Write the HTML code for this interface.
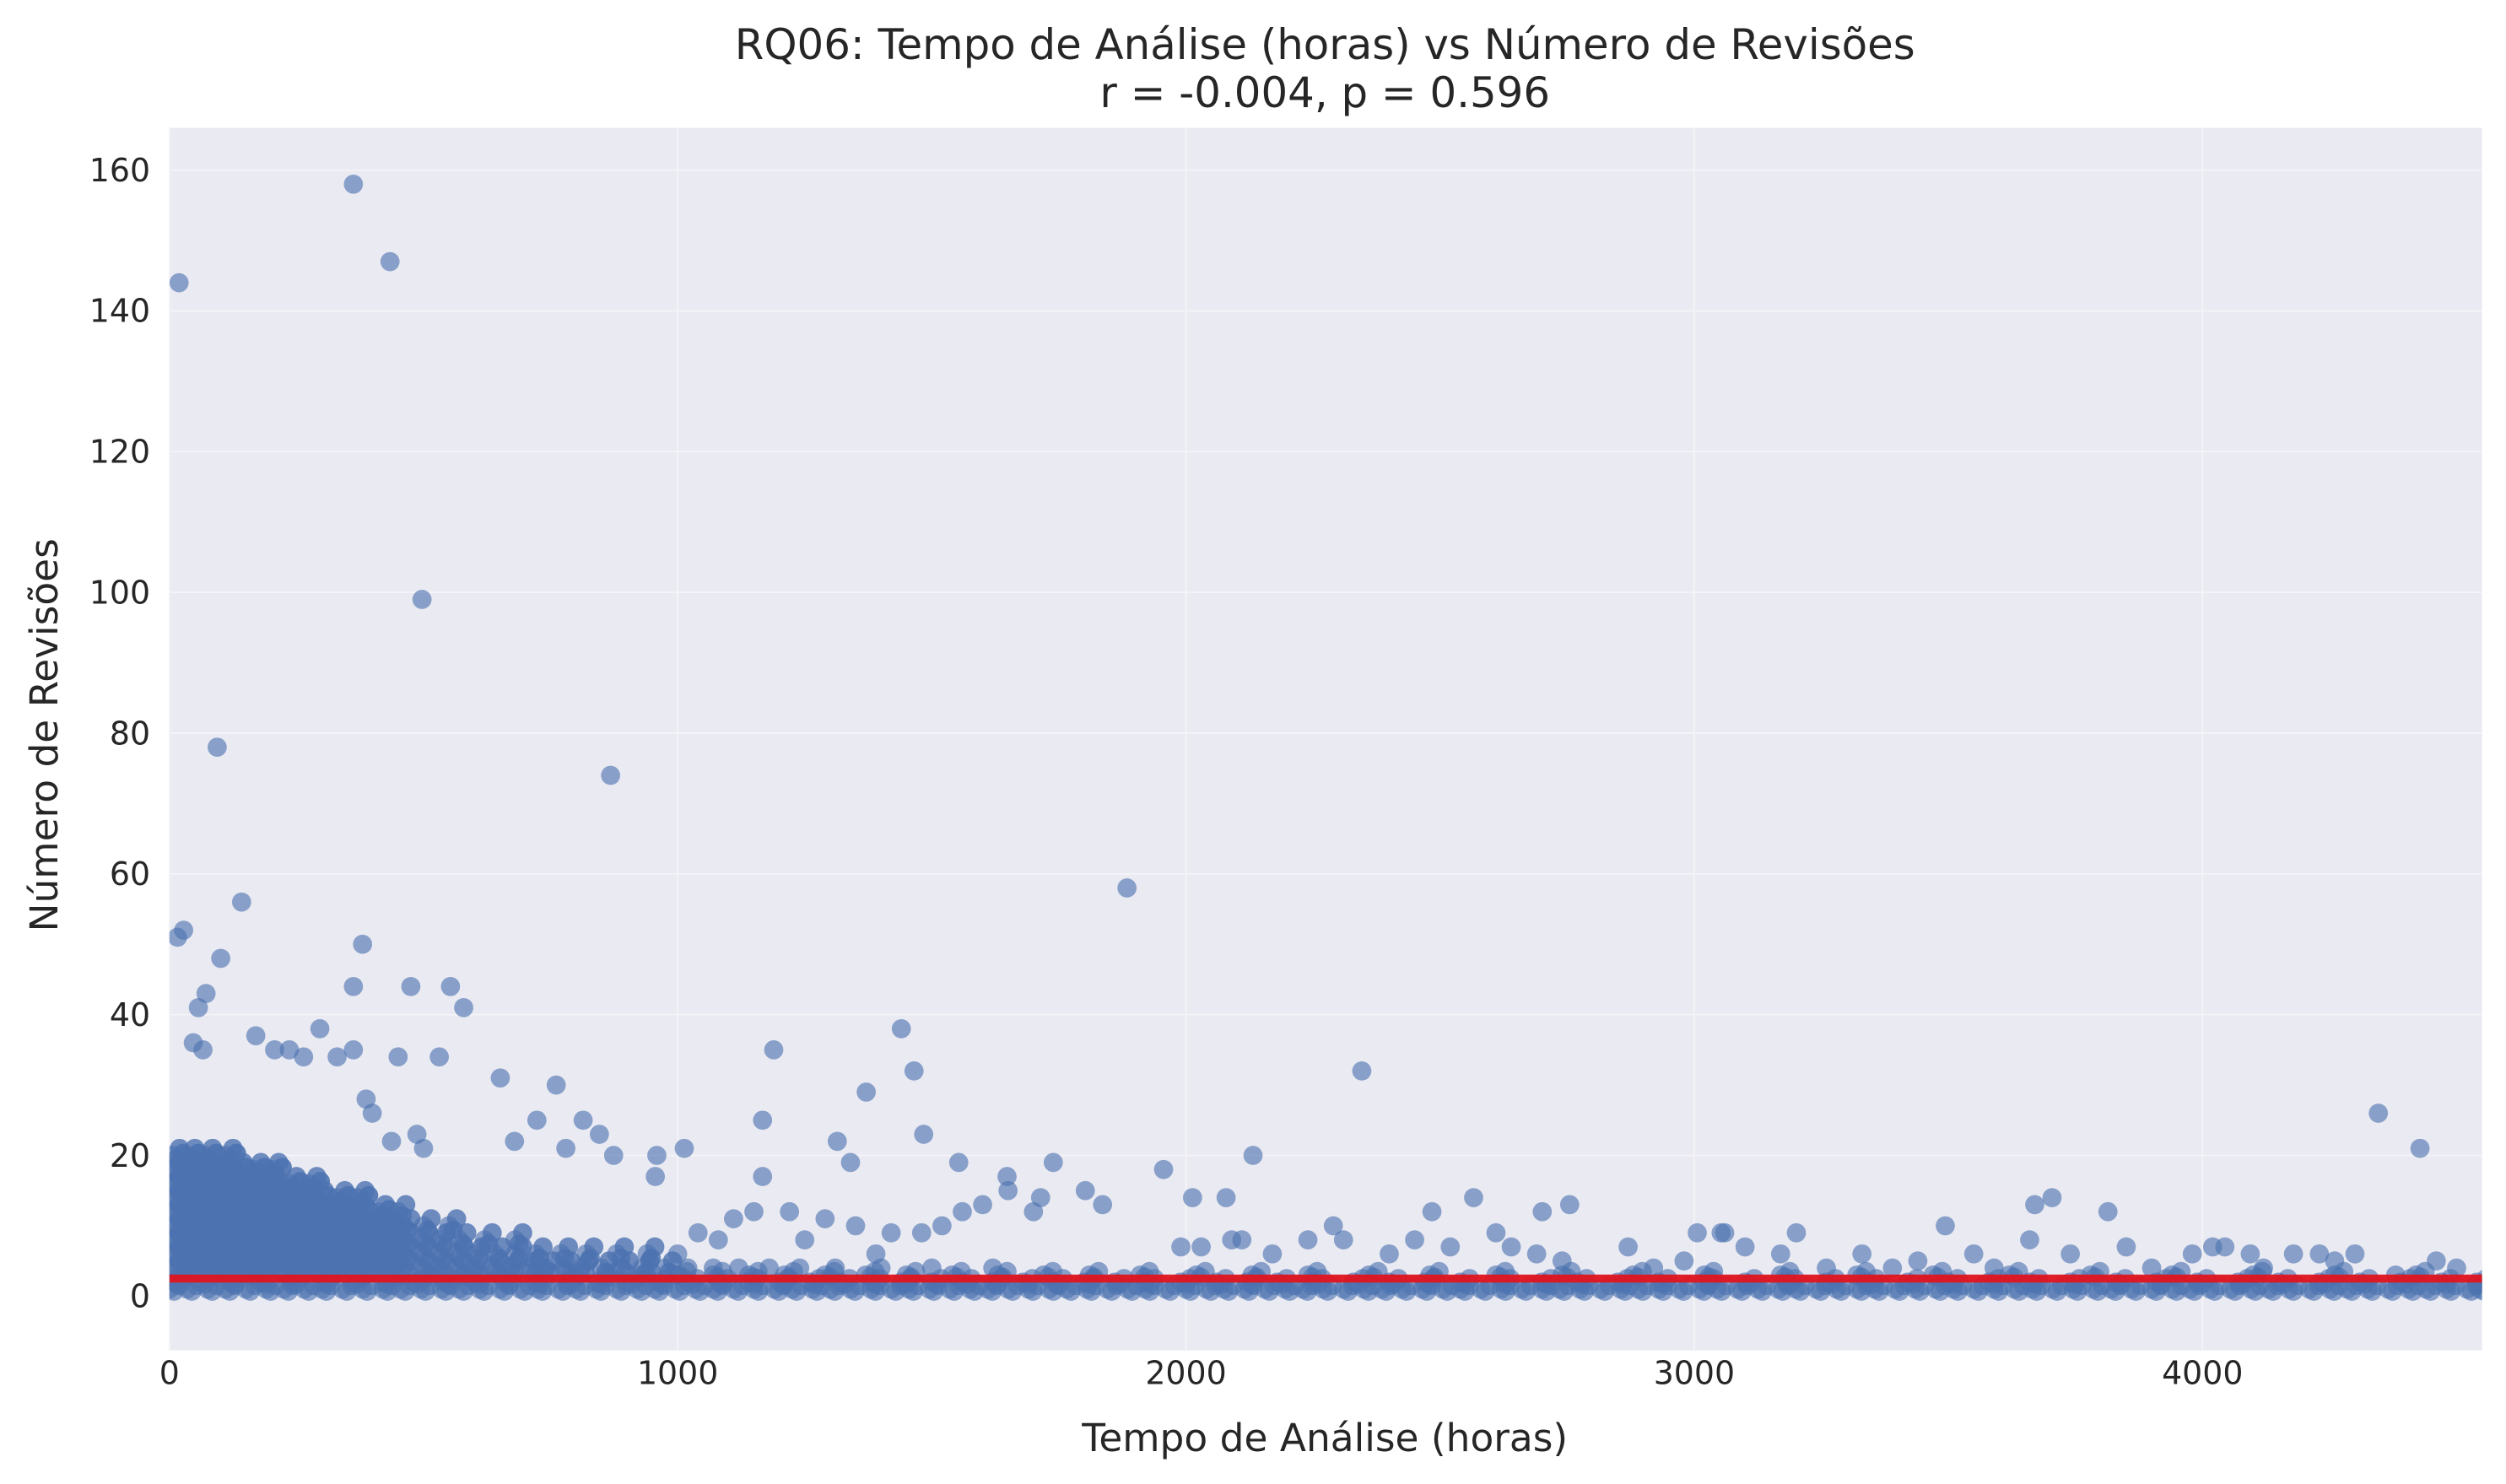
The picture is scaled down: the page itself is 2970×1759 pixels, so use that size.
<!DOCTYPE html>
<html><head><meta charset="utf-8"><style>
html,body{margin:0;padding:0;background:#fff;}
svg{display:block;}
text{font-family:"DejaVu Sans","Liberation Sans",sans-serif;fill:#262626;}
</style></head><body>
<svg id="chart" width="2970" height="1759" viewBox="0 0 1568 928.6" xmlns="http://www.w3.org/2000/svg">
<defs><clipPath id="plotclip"><rect x="106" y="80" width="1447" height="765"/></clipPath></defs>
<rect x="106" y="80" width="1447" height="765" fill="#eaeaf2"/>
<g id="grid"></g>
<g id="points" clip-path="url(#plotclip)"></g>
<g id="trend" clip-path="url(#plotclip)"></g>
<g id="xticks"></g>
<g id="yticks"></g>
<text x="829" y="37" text-anchor="middle" font-size="26.3">RQ06: Tempo de Análise (horas) vs Número de Revisões</text>
<text x="829" y="67" text-anchor="middle" font-size="26.3">r = -0.004, p = 0.596</text>
<text x="829" y="908" text-anchor="middle" font-size="24">Tempo de Análise (horas)</text>
<text x="36" y="460" text-anchor="middle" font-size="24" transform="rotate(-90 36 460)">Número de Revisões</text>
</svg>
<script>
// axis data
const xTicks=[0,1000,2000,3000,4000];
const yTicks=[0,20,40,60,80,100,120,140,160];
const xDomain=[0,4550];
const yDomain=[-7.7,166];
const trendY=[2.5,2.5];
// outlier points (hours, revisions)
const outX=[19,362,434,497,94,868,1884,16,28,142,380,101,72,57,362,475,553,579,66,47,330,362,450,531,207,236,264,170,296,1189,1440,1465,1371,2346,4346,4428,387,399,651,761,723,814,846,874,679,780,487,500,437,959,956,1013,1167,1167,1314,1340,1484,1553,1739,1648,1714,1802,1836,1956,2132,2013,2079,2566,2701,2755,2484,3704,3670,3814,3494,3006,3053,3201,4044,4094,4179,4230,1700,1650,1600,1560,1520,1480,1420,1390,1350,1290,1250,1220,1150,1110,1080,1040,1990,2030,2090,2110,2170,2240,2290,2310,2400,2450,2520,2610,2640,2690,2740,2870,2920,2980,3060,3100,3170,3260,3330,3390,3440,3550,3590,3660,3740,3850,3900,3980,4020,4120,4260,4300,4380,4460,4500];
const outY=[144,158,147,99,78,74,58,51,52,56,50,48,43,41,44,44,44,41,35,36,34,35,34,34,35,35,34,37,38,35,38,32,29,32,26,21,28,26,31,30,25,25,23,20,22,21,23,21,22,20,17,21,25,17,22,19,23,19,19,17,14,15,13,18,20,14,14,14,12,13,12,14,13,12,10,9,9,9,7,6,6,6,12,15,13,12,10,9,9,6,10,11,8,12,12,11,8,9,7,7,8,8,6,8,10,8,6,8,7,9,7,6,5,7,4,5,9,7,6,4,6,4,5,6,4,8,6,7,4,6,7,4,5,6,3,5,4,5,4,5];
// dense band rows: revision value and hours list for each row
const row1X=[0,35,75,110,150,190,225,265,300,340,380,420,455,495,535,570,610,650,690,725,765,800,840,880,920,955,995,1035,1070,1110,1150,1190,1225,1265,1300,1340,1380,1420,1455,1495,1535,1575,1610,1650,1690,1730,1765,1805,1845,1885,1920,1960,2000,2040,2075,2115,2155,2195,2230,2270,2310,2350,2385,2425,2465,2505,2540,2580,2620,2660,2700,2735,2775,2815,2855,2890,2930,2970,3010,3045,3085,3125,3165,3200,3240,3280,3320,3355,3395,3435,3475,3510,3550,3590,3630,3665,3705,3745,3785,3820,3860,3900,3940,3975,4015,4055,4095,4130,4170,4210,4250,4285,4325,4365,4405,4440,4480,4520,4545];
const row2X=[10,60,120,180,240,300,360,420,480,540,600,660,720,780,840,900,960,1020,1080,1140,1200,1260,1320,1380,1440,1500,1560,1620,1680,1740,1800,1860,1920,1990,2060,2120,2180,2250,2330,2400,2470,2540,2620,2700,2770,2850,2930,3020,3100,3180,3260,3340,3420,3500,3580,3660,3740,3830,3910,3990,4070,4150,4230,4310,4390,4470,4540];
const row3X=[20,90,160,230,300,370,440,510,580,650,720,790,860,930,1000,1070,1140,1210,1290,1370,1450,1540,1630,1720,1810,1910,2020,2130,2240,2360,2480,2610,2740,2880,3020,3170,3320,3470,3620,3780,3940,4100,4260,4420];
const row4X=[5,40,75,110,145,180,215,250,285,320,355,390,425,460,495,530,565,600,635,670,705,740,775,810,850,890,930,975,1020,1070,1120,1180,1240,1310,1400,1500,1620];
const row6X=[5,40,75,110,145,180,215,250,285,320,355,390,425,460,495,530,565,600,640,680,720,770,820,880,940,1000];
const row8X=[5,38,70,102,135,168,200,232,265,298,330,362,395,428,460,495,530,570,620,680];
const row10X=[5,35,65,95,125,155,185,215,245,275,305,335,365,395,425,460,500,550];
const row12X=[5,35,65,95,125,155,185,215,245,275,305,335,370,410,450];
const row14X=[5,35,65,95,125,155,185,215,250,290,330,370];
const row16X=[5,35,65,95,125,160,195,235,275];
const row18X=[5,35,65,95,130,165,200];
const row20X=[5,35,70,110];
const rowVals=[1,2,3,4,6,8,10,12,14,16,18,20];
const rowLists=[row1X,row2X,row3X,row4X,row6X,row8X,row10X,row12X,row14X,row16X,row18X,row20X];

const NS='http://www.w3.org/2000/svg';
const L=106,R=1553,T=80,B=845;
function sx(v){return L+(v-xDomain[0])/(xDomain[1]-xDomain[0])*(R-L);}
function sy(v){return B-(v-yDomain[0])/(yDomain[1]-yDomain[0])*(B-T);}
function mk(tag,attrs,parent){const e=document.createElementNS(NS,tag);for(const k in attrs)e.setAttribute(k,attrs[k]);parent.appendChild(e);return e;}

const grid=document.getElementById('grid');
const xt=document.getElementById('xticks');
const yt=document.getElementById('yticks');
xTicks.forEach(v=>{
  const g=mk('line',{x1:sx(v),x2:sx(v),y1:T,y2:B,stroke:'#f4f4f8','stroke-width':0.9},grid);
  
  
  const t=mk('text',{x:sx(v),y:B+21,'text-anchor':'middle','font-size':20},xt);
  t.textContent=v;
  
  
});
yTicks.forEach(v=>{
  const g=mk('line',{x1:L,x2:R,y1:sy(v),y2:sy(v),stroke:'#f4f4f8','stroke-width':0.9},grid);
  
  
  const t=mk('text',{x:L-12,y:sy(v)+7,'text-anchor':'end','font-size':20},yt);
  t.textContent=v;
  
  
});

const pts=document.getElementById('points');
function dot(x,y,op){
  const c=mk('circle',{cx:sx(x),cy:sy(y),r:6,fill:'#4c72b0','fill-opacity':op||0.62},pts);
  
  
}
rowLists.forEach((list,i)=>{list.forEach(x=>dot(x,rowVals[i]));});
// overlapping neighbours that make the dense core solid
rowLists.forEach((list,i)=>{list.forEach(x=>{
  if(rowVals[i]<=3){dot(x+18,rowVals[i]+0.5);dot(x+9,rowVals[i]-0.3);}
  else if(x<1000){dot(x+15,rowVals[i]+1,0.8);dot(x+8,rowVals[i]-0.6,0.8);if(x<450)dot(x+22,rowVals[i]+0.3,0.9);}
});});
outX.forEach((x,i)=>dot(x,outY[i]));

const tr=document.getElementById('trend');
const ln=mk('line',{x1:sx(xDomain[0]),x2:sx(xDomain[1]),y1:sy(trendY[0]),y2:sy(trendY[1]),stroke:'#e0141e','stroke-width':5,'stroke-opacity':0.95},tr);


</script>
</body></html>
